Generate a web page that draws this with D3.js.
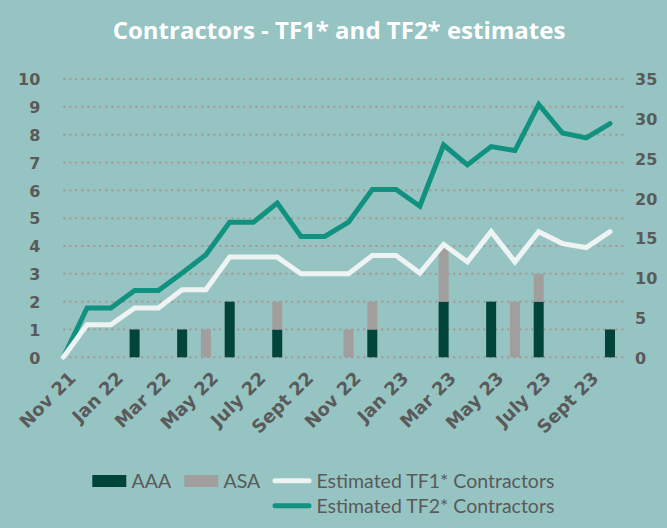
<!DOCTYPE html>
<html>
<head>
<meta charset="utf-8">
<script src="https://cdn.jsdelivr.net/npm/d3@7"></script>
<style>
  html, body { margin: 0; padding: 0; background: #96c4c2; }
  svg { display: block; }
</style>
</head>
<body>
<svg id="chart" width="667" height="528"></svg>
<script>
// Monthly categories, Nov 2021 to Oct 2023
const months = ["Nov 21","Dec 21","Jan 22","Feb 22","Mar 22","Apr 22","May 22","June 22",
  "July 22","Aug 22","Sept 22","Oct 22","Nov 22","Dec 22","Jan 23","Feb 23",
  "Mar 23","Apr 23","May 23","June 23","July 23","Aug 23","Sept 23","Oct 23"];

// Bar counts (left axis)
const aaa = [0,0,0,1,0,1,0,2,0,1,0,0,0,1,0,0,2,0,2,0,2,0,0,1];
const asa = [0,0,0,0,0,0,1,0,0,1,0,0,1,1,0,0,2,0,0,2,1,0,0,0];

// Estimated contractors (right axis)
const tf1 = [0,4.1,4.1,6.2,6.2,8.5,8.5,12.6,12.6,12.6,10.5,10.5,10.5,12.8,12.8,10.6,14.2,12.0,15.8,12.0,15.8,14.3,13.8,15.8];
const tf2 = [0,6.2,6.2,8.4,8.4,10.6,12.9,17.0,17.0,19.4,15.2,15.2,17.0,21.1,21.1,19.0,26.7,24.2,26.5,26.0,31.8,28.2,27.6,29.4];

// Axis ticks
const leftTicks = [0,1,2,3,4,5,6,7,8,9,10];
const rightTicks = [0,5,10,15,20,25,30,35];
const xTickLabels = ["Nov 21","Jan 22","Mar 22","May 22","July 22","Sept 22","Nov 22","Jan 23","Mar 23","May 23","July 23","Sept 23"];

const legendBars = [{name: "AAA", color: "#00443a"}, {name: "ASA", color: "#a09f9e"}];
const legendLines = [{name: "Estimated TF1* Contractors", color: "#eef4f3"},
                     {name: "Estimated TF2* Contractors", color: "#11917f"}];

const title = "Contractors - TF1* and TF2* estimates";

const svg = d3.select("#chart");
const W = 667, H = 528;
svg.append("rect").attr("width", W).attr("height", H).attr("fill", "#96c4c2");

const plotTop = 79, plotBottom = 357.3, gridLeft = 63.3, gridRight = 627;
const x = d3.scalePoint().domain(months).range([63.3, 610]);
const yL = d3.scaleLinear().domain([0, 10]).range([plotBottom, plotTop]);
const yR = d3.scaleLinear().domain([0, 35]).range([plotBottom, plotTop]);

const tickColor = "#5a5a5a";
const tickFont = "'DejaVu Sans', sans-serif";

// Title
svg.append("text")
  .attr("x", 339).attr("y", 39)
  .attr("text-anchor", "middle")
  .attr("fill", "#ffffff")
  .attr("font-family", "'Open Sans', sans-serif")
  .attr("font-weight", 700)
  .attr("font-size", 24)
  .text(title);

// Dotted gridlines at the left-axis ticks
svg.append("g").selectAll("line").data(leftTicks).join("line")
  .attr("x1", gridLeft).attr("x2", gridRight)
  .attr("y1", d => yL(d)).attr("y2", d => yL(d))
  .attr("stroke", "#a59593").attr("stroke-width", 2)
  .attr("stroke-dasharray", "2,4");

// Left axis
const leftAxis = svg.append("g")
  .attr("transform", `translate(${gridLeft - 23},0)`)
  .call(d3.axisLeft(yL).tickValues(leftTicks).tickSize(0).tickPadding(0).tickFormat(d3.format("d")));
leftAxis.select(".domain").remove();
leftAxis.selectAll("text")
  .attr("fill", tickColor).attr("font-family", tickFont)
  .attr("font-weight", 700).attr("font-size", 16).attr("dy", "0.36em");

// Right axis
const rightAxis = svg.append("g")
  .attr("transform", `translate(635,0)`)
  .call(d3.axisRight(yR).tickValues(rightTicks).tickSize(0).tickPadding(0).tickFormat(d3.format("d")));
rightAxis.select(".domain").remove();
rightAxis.selectAll("text")
  .attr("fill", tickColor).attr("font-family", tickFont)
  .attr("font-weight", 700).attr("font-size", 16).attr("dy", "0.36em");

// Bottom axis labels, rotated
const bottomAxis = svg.append("g")
  .attr("transform", `translate(0,${plotBottom})`)
  .call(d3.axisBottom(x).tickValues(xTickLabels).tickSize(0).tickPadding(0));
bottomAxis.select(".domain").remove();
bottomAxis.selectAll("text")
  .attr("fill", tickColor).attr("font-family", tickFont)
  .attr("font-weight", 700).attr("font-size", 18)
  .attr("text-anchor", "end")
  .attr("dy", null).attr("y", 0)
  .attr("transform", "translate(13,22) rotate(-45)");

// Stacked bars: AAA at the bottom, ASA on top
const barW = 10;
const stackData = months.map((m, i) => ({month: m, AAA: aaa[i], ASA: asa[i]}));
const series = d3.stack().keys(["AAA", "ASA"])(stackData);
const barColors = {AAA: "#00443a", ASA: "#a09f9e"};
svg.append("g").selectAll("g").data(series).join("g")
  .attr("fill", d => barColors[d.key])
  .selectAll("rect").data(d => d.filter(s => s[1] > s[0])).join("rect")
  .attr("x", d => x(d.data.month) - barW / 2)
  .attr("width", barW)
  .attr("y", d => yL(d[1]))
  .attr("height", d => yL(d[0]) - yL(d[1]));

// Lines on the right axis
const line = vals => d3.line().x((d, i) => x(months[i])).y(d => yR(d))(vals);
svg.append("path").attr("d", line(tf2))
  .attr("fill", "none").attr("stroke", legendLines[1].color)
  .attr("stroke-width", 5).attr("stroke-linecap", "round").attr("stroke-linejoin", "miter");
svg.append("path").attr("d", line(tf1))
  .attr("fill", "none").attr("stroke", legendLines[0].color)
  .attr("stroke-width", 5).attr("stroke-linecap", "round").attr("stroke-linejoin", "miter");

// Legend
const legendFont = "'Lato', sans-serif";
const lg = svg.append("g");
const barItems = [{x: 92.3, tx: 131.5}, {x: 184.3, tx: 223.5}];
legendBars.forEach((b, i) => {
  lg.append("rect").attr("x", barItems[i].x).attr("y", 475).attr("width", 34).attr("height", 12).attr("fill", b.color);
  lg.append("text").attr("x", barItems[i].tx).attr("y", 487.5)
    .attr("fill", tickColor).attr("font-family", legendFont).attr("font-size", 19.5).text(b.name);
});
legendLines.forEach((l, i) => {
  const yy = 480.7 + i * 25;
  lg.append("line").attr("x1", 275).attr("x2", 309).attr("y1", yy).attr("y2", yy)
    .attr("stroke", l.color).attr("stroke-width", 5).attr("stroke-linecap", "round");
  lg.append("text").attr("x", 316.5).attr("y", yy + 7)
    .attr("fill", tickColor).attr("font-family", legendFont).attr("font-size", 19.5).text(l.name);
});
</script>
</body>
</html>
